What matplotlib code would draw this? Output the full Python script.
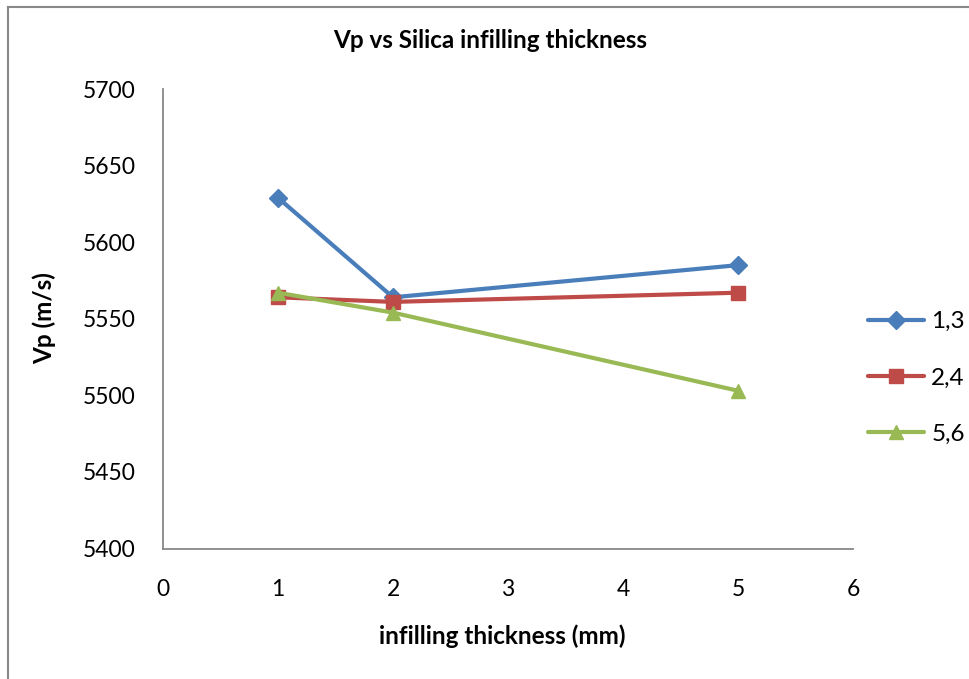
import matplotlib
matplotlib.use("Agg")
import matplotlib.pyplot as plt
from matplotlib.lines import Line2D

x_vals = [1, 2, 5]
series_names = ["1,3", "2,4", "5,6"]
s13 = [5629, 5564, 5585]
s24 = [5564, 5561, 5567]
s56 = [5567, 5554, 5503]
colors = ["#4A7EBB", "#BE4B48", "#98B954"]
markers = ["D", "s", "^"]
xticks = [0, 1, 2, 3, 4, 5, 6]
yticks = [5400, 5450, 5500, 5550, 5600, 5650, 5700]

plt.rcParams['font.family'] = ['Lato', 'DejaVu Sans']

fig = plt.figure(figsize=(9.69, 6.79), dpi=100)
ax = fig.add_axes([163/969, 1-548.5/679, (853-163)/969, (548.5-89)/679])

for name, vals, c, m in zip(series_names, [s13, s24, s56], colors, markers):
    ms = 9 if m == "D" else 10
    ax.plot(x_vals, vals, color=c, marker=m, markersize=ms, linewidth=3.0,
            markeredgecolor=c, label=name, solid_capstyle='round')

ax.set_xlim(0, 6)
ax.set_ylim(5400, 5700)
ax.set_xticks(xticks)
ax.set_yticks(yticks)
ax.tick_params(length=0, labelsize=16.5)
ax.tick_params(axis='x', pad=22)
ax.tick_params(axis='y', pad=19.5)
for s in ["top", "right"]:
    ax.spines[s].set_visible(False)
for s in ["left", "bottom"]:
    ax.spines[s].set_color("#888888")
    ax.spines[s].set_linewidth(1.3)

fig.text(490/969, 1-40/679, "Vp vs Silica infilling thickness", ha='center', va='center',
         fontsize=17.5, fontweight='bold')
fig.text(502/969, 1-636/679, "infilling thickness (mm)", ha='center', va='center',
         fontsize=17.5, fontweight='bold')
fig.text(44/969, 1-318/679, "Vp (m/s)", ha='center', va='center', rotation=90,
         fontsize=17.5, fontweight='bold')

leg = fig.legend(loc='center left', bbox_to_anchor=(868/969, 1-378/679), frameon=False,
                 fontsize=17.5, handlelength=2.3, labelspacing=1.45, handletextpad=0.3,
                 borderaxespad=0, borderpad=0)

fig.add_artist(Line2D([8/969, 8/969], [0, 1-7/679], color="#888888", linewidth=1.5,
                      transform=fig.transFigure))
fig.add_artist(Line2D([8/969, 1], [1-7/679, 1-7/679], color="#888888", linewidth=1.5,
                      transform=fig.transFigure))

fig.savefig("out.png", dpi=100)
